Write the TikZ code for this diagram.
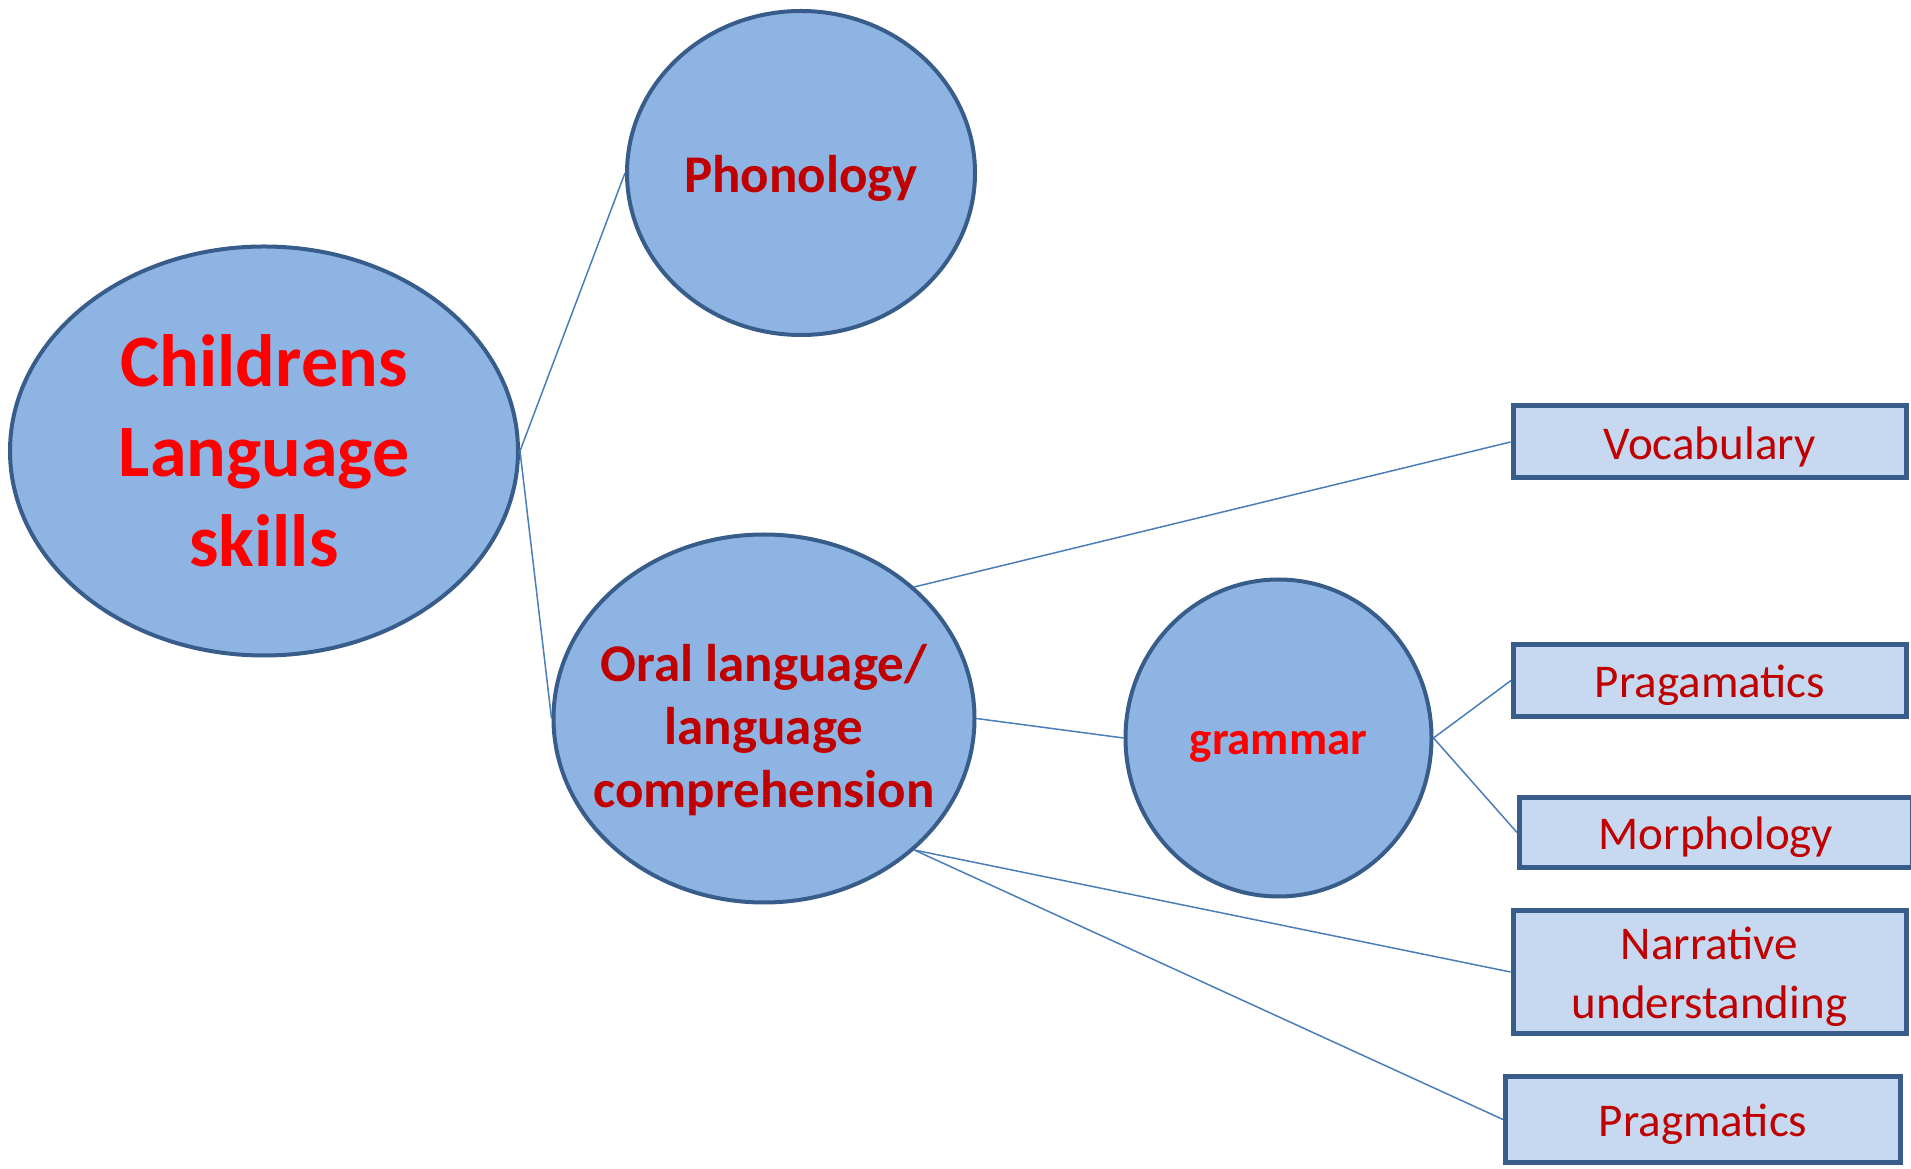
\documentclass[tikz,border=0pt]{standalone}
\usepackage{fontspec}
\setmainfont{Carlito}
\usetikzlibrary{shapes.geometric}

\definecolor{bubblefill}{RGB}{142,180,227}
\definecolor{leaffill}{RGB}{198,217,241}
\definecolor{rimblue}{RGB}{56,93,138}
\definecolor{linkblue}{RGB}{74,126,187}
\definecolor{darkred}{RGB}{192,0,0}

\tikzset{
  bubble/.style={ellipse, draw=rimblue, line width=4pt, fill=bubblefill,
    inner sep=0pt},
  bubbletext/.style={align=center, font=\bfseries\fontsize{53}{63}\selectfont},
  leaf/.style={rectangle, draw=rimblue, line width=5pt, fill=leaffill,
    inner sep=0pt, minimum width=393pt},
  leaftext/.style={align=center, text=darkred, yshift=-5pt,
    font=\fontsize{47}{58.5}\selectfont},
  link/.style={draw=linkblue, line width=1.5pt}
}

\begin{document}
\begin{tikzpicture}[x=1pt,y=1pt]

  \useasboundingbox (0,0) rectangle (1911,1168);

  % bubbles
  \node (skills) [bubble, minimum width=508pt, minimum height=409pt,
    label={[bubbletext, text=red, font=\bfseries\fontsize{74}{90}\selectfont]center:Childrens\\Language\\skills}]
    at (264,717) {};
  \node (phon) [bubble, minimum width=348pt, minimum height=324pt,
    label={[bubbletext, text=darkred, yshift=-5pt]center:Phonology}]
    at (801,995) {};
  \node (oral) [bubble, minimum width=421pt, minimum height=368pt,
    label={[bubbletext, text=darkred, yshift=-12pt]center:Oral language/\\language\\comprehension}]
    at (764,449.5) {};
  \node (gram) [bubble, minimum width=306pt, minimum height=317pt,
    label={[bubbletext, text=red, yshift=-9pt, font=\bfseries\fontsize{47}{56}\selectfont]center:grammar}]
    at (1278.5,430) {};

  % boxes
  \node (vocab) [leaf, minimum height=72pt, label={[leaftext]center:Vocabulary}] at (1709.5,726) {};
  \node (prag1) [leaf, minimum height=72pt, label={[leaftext]center:Pragamatics}] at (1710,487.5) {};
  \node (morph) [leaf, minimum height=70pt, label={[leaftext]center:Morphology}] at (1716,335.5) {};
  \node (narr) [leaf, minimum height=123pt, label={[leaftext]center:Narrative\\understanding}] at (1709.5,196) {};
  \node (prag2) [leaf, minimum height=86pt, minimum width=395pt, label={[leaftext]center:Pragmatics}] at (1703,48.5) {};

  \draw [link] (skills.east) -- (phon.west);
  \draw [link] (skills.east) -- (oral.west);
  \draw [link] (oral.north east) -- (vocab.west);
  \draw [link] (oral.east) -- (gram.west);
  \draw [link] (oral.south east) -- (narr.west);
  \draw [link] (oral.south east) -- (prag2.west);
  \draw [link] (gram.east) -- (prag1.west);
  \draw [link] (gram.east) -- (morph.west);

\end{tikzpicture}
\end{document}
